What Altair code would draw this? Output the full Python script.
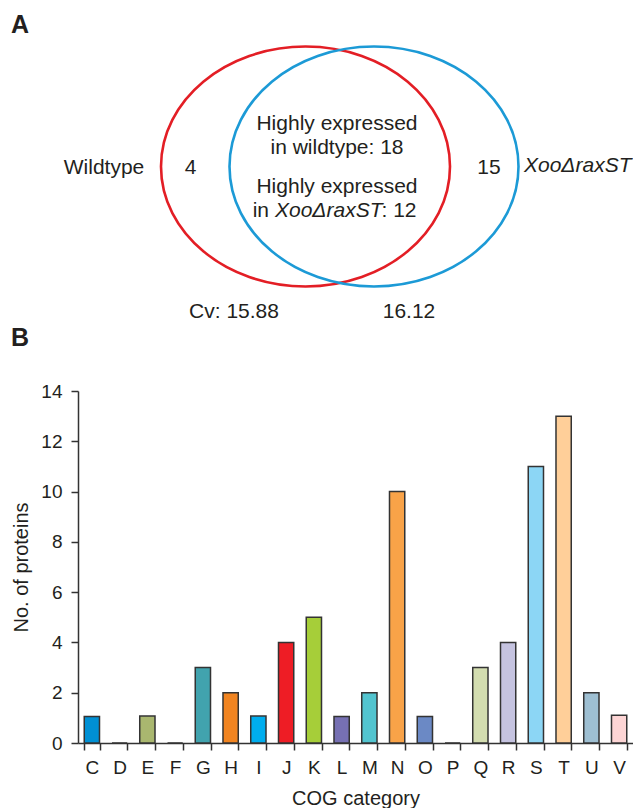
import altair as alt
import pandas as pd

# ---------------- data ----------------
categories = ["C", "D", "E", "F", "G", "H", "I", "J", "K", "L",
              "M", "N", "O", "P", "Q", "R", "S", "T", "U", "V"]
protein_counts = [1.05, 0, 1.07, 0, 3, 2, 1.07, 4, 5, 1.05,
                  2, 10, 1.05, 0, 3, 4, 11, 13, 2, 1.1]
bar_colors = ["#0090D4", "#FFFFFF", "#A9B76F", "#FFFFFF", "#41A3AE", "#F18420",
              "#00ADEE", "#EE1D25", "#A6CE39", "#7670B3", "#52C4CF", "#F9A348",
              "#6B89C5", "#FFFFFF", "#D3DDB0", "#C5C3E0", "#8CD6F5", "#FFCF99",
              "#9EBFD2", "#FDD5D5"]
y_ticks = [0, 2, 4, 6, 8, 10, 12, 14]

set_names = ["Wildtype", "XooΔraxST"]
only_counts = [4, 15]
shared_wt = 18
shared_mut = 12
cv_values = [15.88, 16.12]

FONT = "Liberation Sans"
TXT = "#231F20"
AX = "#333333"

BW, BH = 555, 352          # bar plot area
VW, VH = 555, 360          # venn panel
OX, OY = 80, 8             # page position of the panel origins
def px(x):
    return x - OX
def py(y):
    return y - OY

xs = alt.Scale(domain=[0, VW], nice=False, zero=False)
ys = alt.Scale(domain=[VH, 0], nice=False, zero=False)

# ---------------- panel A : Venn ----------------
ellipse_df = pd.DataFrame({
    "set": set_names,
    "x": [px(307.5), px(376)],
    "y": [py(166.5), py(166.5)],
    "col": ["#E31E25", "#1C9AD6"],
})
ellipse_path = "M -4 0 A 4 3.32 0 1 0 4 0 A 4 3.32 0 1 0 -4 0 Z"
ellipses = alt.Chart(ellipse_df).mark_point(
    shape=ellipse_path, size=(289 / 4) ** 2, filled=False, strokeWidth=2.6, opacity=1
).encode(
    x=alt.X("x:Q", scale=xs, axis=None),
    y=alt.Y("y:Q", scale=ys, axis=None),
    stroke=alt.Stroke("col:N", scale=None),
)

center_df = pd.DataFrame({
    "label": [set_names[0], str(only_counts[0]), str(only_counts[1]),
              "Highly expressed", f"in wildtype: {shared_wt}", "Highly expressed",
              f"Cv: {cv_values[0]:.2f}", f"{cv_values[1]:.2f}"],
    "x": [px(106), px(192.5), px(491), px(339), px(339), px(339), px(236), px(411)],
    "y": [py(168), py(168), py(168), py(124), py(148), py(187), py(312), py(312)],
})
center_txt = alt.Chart(center_df).mark_text(
    font=FONT, fontSize=21, color=TXT, align="center", baseline="middle"
).encode(x=alt.X("x:Q", scale=xs), y=alt.Y("y:Q", scale=ys), text="label:N")

in_df = pd.DataFrame({"label": ["in"], "x": [px(271)], "y": [py(211)]})
in_txt = alt.Chart(in_df).mark_text(
    font=FONT, fontSize=21, color=TXT, align="right", baseline="middle"
).encode(x=alt.X("x:Q", scale=xs), y=alt.Y("y:Q", scale=ys), text="label:N")

ital_df = pd.DataFrame({"label": [set_names[1], set_names[1]],
                        "x": [px(277), px(526)], "y": [py(211), py(166)]})
ital_txt = alt.Chart(ital_df).mark_text(
    font=FONT, fontSize=21, color=TXT, align="left", baseline="middle", fontStyle="italic"
).encode(x=alt.X("x:Q", scale=xs), y=alt.Y("y:Q", scale=ys), text="label:N")

tail_df = pd.DataFrame({"label": [f": {shared_mut}"], "x": [px(383.5)], "y": [py(211)]})
tail_txt = alt.Chart(tail_df).mark_text(
    font=FONT, fontSize=21, color=TXT, align="left", baseline="middle"
).encode(x=alt.X("x:Q", scale=xs), y=alt.Y("y:Q", scale=ys), text="label:N")

panel_df = pd.DataFrame({"label": ["A", "B"], "x": [px(13), px(13)], "y": [py(25), py(338)]})
panel_txt = alt.Chart(panel_df).mark_text(
    font="Liberation Sans Narrow, " + FONT, fontSize=25, fontWeight="bold", color=TXT,
    align="left", baseline="middle"
).encode(x=alt.X("x:Q", scale=xs), y=alt.Y("y:Q", scale=ys), text="label:N")

venn = alt.layer(ellipses, center_txt, in_txt, ital_txt, tail_txt, panel_txt).properties(
    width=VW, height=VH
)

# ---------------- panel B : bars ----------------
bar_df = pd.DataFrame({"cat": categories, "value": protein_counts})
bars = alt.Chart(bar_df).mark_bar(stroke=AX, strokeWidth=1.5).encode(
    x=alt.X("cat:N", sort=categories,
            scale=alt.Scale(paddingInner=0.45, paddingOuter=0.225),
            axis=alt.Axis(title="COG category", labelAngle=0, tickBand="extent",
                          labelFontSize=19, titleFontSize=20, labelPadding=8,
                          titlePadding=11, tickSize=7)),
    y=alt.Y("value:Q", scale=alt.Scale(domain=[0, 14], nice=False),
            axis=alt.Axis(title="No. of proteins", values=y_ticks, grid=False,
                          labelFontSize=19, titleFontSize=20, labelPadding=9,
                          titlePadding=9, tickSize=7)),
    color=alt.Color("cat:N", scale=alt.Scale(domain=categories, range=bar_colors), legend=None),
).properties(width=BW, height=BH)

chart = alt.vconcat(venn, bars, spacing=391 - OY - VH, bounds="flush").properties(
    padding={"left": 3, "top": 0, "right": 0, "bottom": 0}
).configure_view(stroke=None).configure_axis(
    domainColor=AX, domainWidth=1.5, tickColor=AX, tickWidth=1.5,
    labelColor=TXT, titleColor=TXT, labelFont=FONT, titleFont=FONT,
    titleFontWeight="normal"
)

chart.save("out.html", embed_options={"renderer": "svg", "actions": False})
